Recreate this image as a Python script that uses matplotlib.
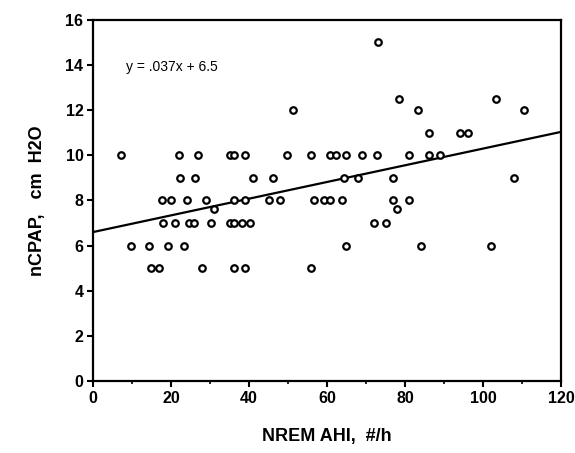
import matplotlib
matplotlib.use("Agg")
import matplotlib.pyplot as plt
import numpy as np

plt.rcParams['font.family'] = ['Liberation Sans', 'DejaVu Sans']

# NREM AHI (#/h) and nCPAP (cm H2O)
ahi = [7.1, 22, 27, 35, 36, 39, 49.7, 55.8, 60.8, 62.2, 64.9, 68.9, 72.7, 81, 86, 89,
       22.3, 26, 40.9, 46.2, 64.2, 68, 77, 108,
       17.6, 20, 24, 28.9, 36, 39, 45, 47.9, 56.7, 59.1, 60.8, 63.9, 76.8, 81,
       31, 78,
       17.8, 21, 24.7, 25.9, 30.3, 35, 36, 38.1, 40.1, 71.9, 75,
       9.7, 14.2, 19.1, 23.2, 64.8, 84, 102,
       14.9, 16.9, 28, 36, 39, 55.8,
       51.2, 73, 78.3, 83.3, 103.3, 110.5, 86.2, 94.1, 96.1]
cpap = [10] * 16 + [9] * 8 + [8] * 14 + [7.6] * 2 + [7] * 11 + [6] * 7 + [5] * 6 + \
       [12, 15, 12.5, 12, 12.5, 12, 11, 11, 11]

line_slope = 0.037
line_intercept = 6.6
equation = "y = .037x + 6.5"

fig = plt.figure(figsize=(5.75, 4.53), dpi=100)
ax = fig.add_axes([0.162, 0.159, 0.814, 0.797])

ax.scatter(ahi, cpap, s=22, facecolors='white', edgecolors='black', linewidths=1.6, zorder=3)

xl = np.array([0, 120])
ax.plot(xl, line_intercept + line_slope * xl, color='black', lw=1.6, zorder=2)

ax.text(8.5, 13.9, equation, fontsize=10, va='center', ha='left')

ax.set_xlim(0, 120)
ax.set_ylim(0, 16)
ax.set_xticks(np.arange(0, 121, 20))
ax.set_xticks(np.arange(10, 120, 20), minor=True)
ax.set_yticks(np.arange(0, 17, 2))
ax.tick_params(axis='both', which='major', direction='out', length=4, width=1.5,
               labelsize=11.5, pad=3)
ax.tick_params(axis='x', which='minor', direction='out', length=2, width=1.2)
for lab in ax.get_xticklabels() + ax.get_yticklabels():
    lab.set_fontweight('bold')

for sp in ax.spines.values():
    sp.set_linewidth(1.6)

ax.set_xlabel("NREM AHI,  #/h", fontsize=13, fontweight='bold', labelpad=16)
ax.set_ylabel("nCPAP,   cm  H2O", fontsize=13, fontweight='bold', labelpad=14)

fig.savefig("out.png", dpi=100)
